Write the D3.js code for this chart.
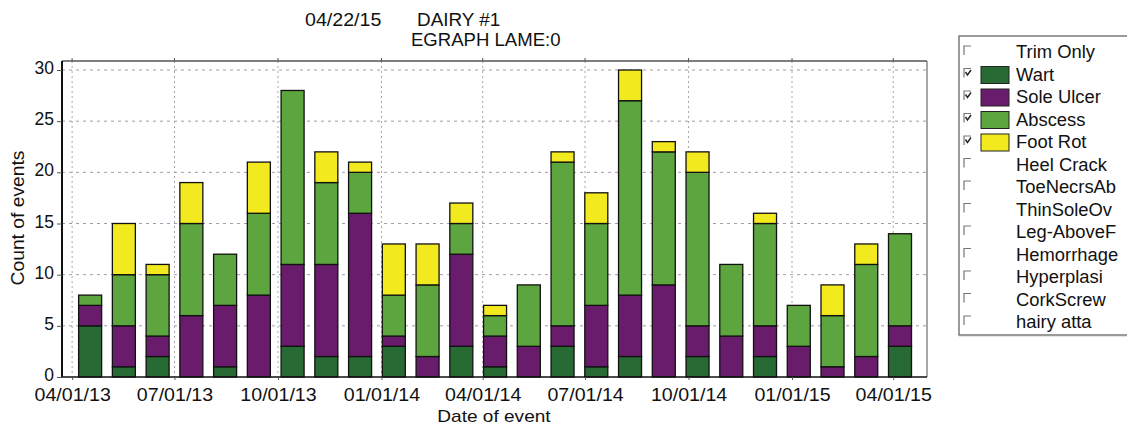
<!DOCTYPE html>
<html>
<head>
<meta charset="utf-8">
<script src="https://cdn.jsdelivr.net/npm/d3@7"></script>
<style>
  body { margin: 0; background: #fff; }
  svg { display: block; font-family: Arial, "Liberation Sans", sans-serif; }
</style>
</head>
<body>
<svg id="chart" width="1127" height="427"></svg>
<script>
// 30-day periods back from 04/22/15, one bar each
var periods = ["04/02/13", "05/02/13", "06/01/13", "07/01/13", "07/31/13", "08/30/13", "09/29/13",
    "10/29/13", "11/28/13", "12/28/13", "01/27/14", "02/26/14", "03/28/14", "04/27/14", "05/27/14",
    "06/26/14", "07/26/14", "08/25/14", "09/24/14", "10/24/14", "11/23/14", "12/23/14", "01/22/15",
    "02/21/15", "03/23/15"];

var wart      = [5, 1, 2, 0, 1, 0, 3, 2, 2, 3, 0, 3, 1, 0, 3, 1, 2, 0, 2, 0, 2, 0, 0, 0, 3];
var soleUlcer = [2, 4, 2, 6, 6, 8, 8, 9, 14, 1, 2, 9, 3, 3, 2, 6, 6, 9, 3, 4, 3, 3, 1, 2, 2];
var abscess   = [1, 5, 6, 9, 5, 8, 17, 8, 4, 4, 7, 3, 2, 6, 16, 8, 19, 13, 15, 7, 10, 4, 5, 9, 9];
var footRot   = [0, 5, 1, 4, 0, 5, 0, 3, 1, 5, 4, 2, 1, 0, 1, 3, 3, 1, 2, 0, 1, 0, 3, 2, 0];

var xTicks = ["04/01/13", "07/01/13", "10/01/13", "01/01/14", "04/01/14", "07/01/14",
    "10/01/14", "01/01/15", "04/01/15"];
var yTicks = [0, 5, 10, 15, 20, 25, 30];

var legendItems = ["Trim Only", "Wart", "Sole Ulcer", "Abscess", "Foot Rot", "Heel Crack",
    "ToeNecrsAb", "ThinSoleOv", "Leg-AboveF", "Hemorrhage", "Hyperplasi", "CorkScrew", "hairy atta"];
var keys = ["Wart", "Sole Ulcer", "Abscess", "Foot Rot"];
var colors = {"Wart": "#286a34", "Sole Ulcer": "#6a1c6c", "Abscess": "#5da53f", "Foot Rot": "#f2ea1f"};

var parseDate = d3.utcParse("%m/%d/%y");
var fmt = d3.utcFormat("%m/%d/%y");

var svg = d3.select("#chart");

// stretch text a bit wider, the scan is wider than plain Arial
function widen(sel, factor) {
    sel.each(function () {
        var w = this.getComputedTextLength();
        d3.select(this).attr("textLength", w * factor).attr("lengthAdjust", "spacingAndGlyphs");
    });
}

var plotLeft = 62, plotRight = 927, plotTop = 61, plotBottom = 377;

var x = d3.scaleUtc()
    .domain([parseDate("03/23/13"), parseDate("05/01/15")])
    .range([plotLeft, plotRight]);
var y = d3.scaleLinear().domain([0, 30]).range([plotBottom, 70]);

var rows = periods.map(function (p, i) {
    return {date: d3.utcDay.offset(parseDate(p), 15), "Wart": wart[i], "Sole Ulcer": soleUlcer[i],
        "Abscess": abscess[i], "Foot Rot": footRot[i]};
});
var series = d3.stack().keys(keys)(rows);

// grid
var tickDates = xTicks.map(parseDate);
svg.append("g").selectAll("line").data(yTicks.slice(1)).enter().append("line")
    .attr("x1", plotLeft).attr("x2", plotRight)
    .attr("y1", function (d) { return y(d); }).attr("y2", function (d) { return y(d); })
    .attr("stroke", "#a898ab").attr("stroke-width", 1).attr("stroke-dasharray", "3,4");
svg.append("g").selectAll("line").data(tickDates).enter().append("line")
    .attr("x1", function (d) { return x(d); }).attr("x2", function (d) { return x(d); })
    .attr("y1", plotTop).attr("y2", plotBottom)
    .attr("stroke", "#aaa4b0").attr("stroke-width", 1).attr("stroke-dasharray", "2,3");

// bars
var barW = 23;
svg.append("g").selectAll("g").data(series).enter().append("g")
    .attr("fill", function (d) { return colors[d.key]; })
    .selectAll("rect").data(function (d) { return d.filter(function (s) { return s[1] > s[0]; }); })
    .enter().append("rect")
    .attr("x", function (d) { return x(d.data.date) - barW / 2; })
    .attr("width", barW)
    .attr("y", function (d) { return y(d[1]); })
    .attr("height", function (d) { return y(d[0]) - y(d[1]); })
    .attr("stroke", "#111").attr("stroke-width", 1.3);

// frame
svg.append("line").attr("x1", plotLeft).attr("x2", plotRight).attr("y1", plotTop).attr("y2", plotTop)
    .attr("stroke", "#555").attr("stroke-width", 1.5);
svg.append("line").attr("x1", plotRight).attr("x2", plotRight).attr("y1", plotTop).attr("y2", plotBottom)
    .attr("stroke", "#777").attr("stroke-width", 1.3);
svg.append("g").selectAll("line").data(tickDates).enter().append("line")
    .attr("x1", function (d) { return x(d); }).attr("x2", function (d) { return x(d); })
    .attr("y1", plotTop - 3).attr("y2", plotTop)
    .attr("stroke", "#555");

// axes
var yAxis = svg.append("g").attr("transform", "translate(" + plotLeft + ",0)")
    .call(d3.axisLeft(y).tickValues(yTicks).tickSize(5).tickPadding(3));
yAxis.select(".domain").attr("stroke", "#111").attr("stroke-width", 2)
    .attr("d", "M0," + plotTop + "V" + plotBottom);
yAxis.selectAll(".tick line").attr("stroke", "#555");
yAxis.selectAll("text").attr("font-size", 17.5).attr("fill", "#111")
    .attr("font-family", "Arial, 'Liberation Sans', sans-serif")
    .attr("dy", "0.2em");

var xAxis = svg.append("g").attr("transform", "translate(0," + plotBottom + ")")
    .call(d3.axisBottom(x).tickValues(tickDates).tickFormat(fmt).tickSize(3).tickPadding(9));
xAxis.select(".domain").attr("stroke", "#111").attr("stroke-width", 1.5)
    .attr("d", "M" + plotLeft + ",0H" + plotRight);
xAxis.selectAll(".tick line").attr("stroke", "#555");
xAxis.selectAll("text").attr("font-size", 17.5).attr("fill", "#111")
    .attr("font-family", "Arial, 'Liberation Sans', sans-serif")
    .attr("dy", "0.71em");
widen(xAxis.selectAll("text"), 1.12);

// axis titles
svg.append("text").attr("x", 494).attr("y", 422).attr("text-anchor", "middle")
    .attr("font-size", 17).attr("fill", "#111").text("Date of event")
    .call(widen, 1.12);
svg.append("text").attr("transform", "translate(24,218) rotate(-90)").attr("text-anchor", "middle")
    .attr("font-size", 17.5).attr("fill", "#111").text("Count of events")
    .call(widen, 1.1);

// heading
svg.append("text").attr("x", 305).attr("y", 26).attr("font-size", 17.5).attr("fill", "#111")
    .text("04/22/15").call(widen, 1.12);
svg.append("text").attr("x", 417).attr("y", 26).attr("font-size", 17.5).attr("fill", "#111")
    .text("DAIRY #1").call(widen, 1.08);
svg.append("text").attr("x", 411).attr("y", 46).attr("font-size", 17.5).attr("fill", "#111")
    .text("EGRAPH LAME:0").call(widen, 1.06);

// legend
var legend = svg.append("g");
legend.append("rect").attr("x", 959).attr("y", 36).attr("width", 200).attr("height", 299)
    .attr("fill", "#fff").attr("stroke", "#666").attr("stroke-width", 1.3);
legend.append("line").attr("x1", 959).attr("x2", 1127).attr("y1", 335.5).attr("y2", 335.5)
    .attr("stroke", "#999").attr("stroke-width", 1.5);

var item = legend.selectAll("g.item").data(legendItems).enter().append("g")
    .attr("class", "item")
    .attr("transform", function (d, i) { return "translate(0," + (52 + i * 22.5) + ")"; });
item.append("path").attr("d", "M964,3V-6H971").attr("fill", "none")
    .attr("stroke", "#777").attr("stroke-width", 1.2);
item.filter(function (d) { return colors[d]; }).append("path")
    .attr("d", "M965.5,-2.5L967.5,0.5L971,-4.5").attr("fill", "none")
    .attr("stroke", "#222").attr("stroke-width", 1.4);
item.filter(function (d) { return colors[d]; }).append("rect")
    .attr("x", 981).attr("y", -8).attr("width", 28).attr("height", 17)
    .attr("fill", function (d) { return colors[d]; })
    .attr("stroke", "#222").attr("stroke-width", 1);
item.append("text").attr("x", 1016).attr("y", 6).attr("font-size", 17.5).attr("fill", "#111")
    .text(function (d) { return d; })
    .call(widen, 1.05);
</script>
</body>
</html>
